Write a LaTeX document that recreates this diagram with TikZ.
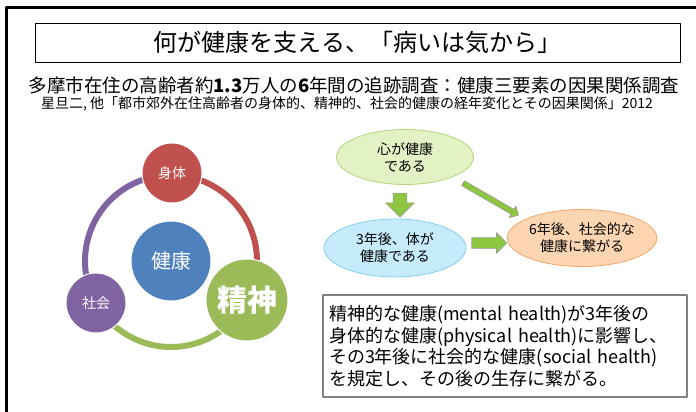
\documentclass[tikz,border=0pt]{standalone}
\usepackage{fontspec}
\setmainfont{Noto Sans CJK JP}
\usetikzlibrary{shapes.geometric,shapes.arrows,calc}
\definecolor{kred}{HTML}{C0504D}
\definecolor{kblue}{HTML}{4F81BD}
\definecolor{kgreen}{HTML}{9BBB59}
\definecolor{kpurple}{HTML}{8064A2}
\definecolor{lgreen}{HTML}{E2F2C4}
\definecolor{mgreen}{HTML}{B2D57A}
\definecolor{lblue}{HTML}{C6EBFA}
\definecolor{mblue}{HTML}{86CFEC}
\definecolor{lorange}{HTML}{FCD6B2}
\definecolor{morange}{HTML}{F4A66A}
\definecolor{agreen}{HTML}{8DC63F}
\begin{document}
\begin{tikzpicture}[x=1pt,y=1pt,line join=round,font=\fontsize{14}{17}\selectfont,
	ball/.style={circle,draw=white,line width=1pt,text=white,inner sep=0pt},
	oval/.style={ellipse,line width=0.8pt,align=center,inner sep=0pt},
	fat/.style={single arrow,fill=agreen,draw=gray!80,line width=0.6pt,inner xsep=0pt,minimum height=#1}]
				\useasboundingbox (0,0) rectangle (696,412);
				\draw[line width=3pt] (6,-5)--(6,404)--(700,404);
				\node[draw,line width=0.8pt,minimum width=645,minimum height=39,font=\fontsize{24}{28}\selectfont] (title) at (357.5,369.5) {何が健康を支える、「病いは気から」};
				\node[font=\fontsize{18.5}{22}\selectfont] (study) at (354,327) {多摩市在住の高齢者約\textbf{1.3}万人の\textbf{6}年間の追跡調査：健康三要素の因果関係調査};
				\node[font=\fontsize{14}{16}\selectfont] (ref) at (347,308) {星旦二, 他「都市郊外在住高齢者の身体的、精神的、社会的健康の経年変化とその因果関係」2012};
				% ring
				\coordinate (c) at (171,151);
				\draw[kred,line width=6pt] (c) ++(90:86) arc (90:-27:86);
				\draw[kgreen,line width=6pt] (c) ++(-27:86) arc (-27:-151:86);
				\draw[kpurple,line width=6pt] (c) ++(209:86) arc (209:90:86);
				\node[ball,fill=kblue,minimum size=80,font=\fontsize{20}{24}\selectfont] (health) at (c) {健康};
				\node[ball,fill=kred,minimum size=60] (body) at (172,239) {身体};
				\node[ball,fill=kgreen,minimum size=82,font=\fontsize{30}{34}\selectfont\bfseries] (mind) at (247,112) {精神};
				\node[ball,fill=kpurple,minimum size=60] (social) at (96,109) {社会};
				% causal chain
				\node[oval,fill=lgreen,draw=mgreen,minimum width=137,minimum height=55] (heart) at (405,255) {心が健康\\である};
				\node[oval,fill=lblue,draw=mblue,minimum width=142,minimum height=58] (three) at (395,164) {3年後、体が\\健康である};
				\node[oval,fill=lorange,draw=morange,minimum width=143,minimum height=57] (six) at (582,174) {6年後、社会的な\\健康に繋がる};
				\node[fat=24,inner ysep=6.5pt,single arrow head extend=7.5pt,rotate=-90] (down) at ($(heart.south)!.5!(three.north)$) {};
				\node[fat=35,inner ysep=5pt,single arrow head extend=5pt] (right) at ($(three.east)!.5!(six.west)$) {};
				\node[fat=64,inner ysep=2.5pt,single arrow head extend=4pt,rotate=-30] (diag) at ($($(heart)!.5!(six)$)+(-4,-1)$) {};
				\node[draw=gray,line width=1.2pt,minimum width=364,minimum height=102,text width=352,align=left,font=\fontsize{18}{21.5}\selectfont] (note) at (505,66) {精神的な健康(mental health)が3年後の\\身体的な健康(physical health)に影響し、\\その3年後に社会的な健康(social health)\\を規定し、その後の生存に繋がる。};
			\end{tikzpicture}
\end{document}
